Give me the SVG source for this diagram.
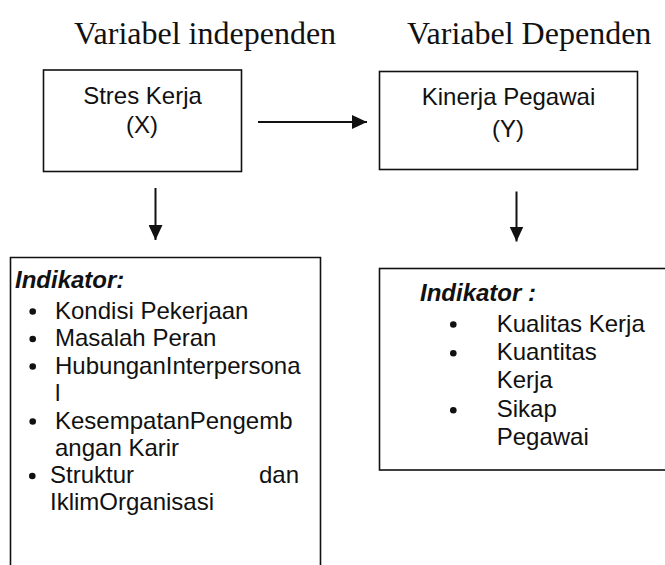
<svg xmlns="http://www.w3.org/2000/svg" width="665" height="565" viewBox="0 0 665 565">
<style>
.box{fill:none;stroke:#111;stroke-width:1.6}
.title{font-family:"Liberation Serif","Times New Roman",serif;font-size:32px;fill:#111}
.t{font-family:"Liberation Sans",Arial,sans-serif;font-size:24px;fill:#111}
.c{text-anchor:middle}
.h{font-weight:bold;font-style:italic}
.b{fill:#111}
.arr{stroke:#111;stroke-width:2;fill:none}
</style>
<defs>
<marker id="ah" markerUnits="userSpaceOnUse" markerWidth="16" markerHeight="14" refX="15" refY="7" orient="auto">
<path d="M0,0 L15,7 L0,14 z" fill="#111"/>
</marker>
</defs>
<g id="titles">
<text class="title" x="74" y="44">Variabel independen</text>
<text class="title" x="407" y="44">Variabel Dependen</text>
</g>
<g id="stres-kerja">
<rect class="box" x="43.5" y="70" width="198" height="101.5"/>
<text class="t c" x="142.5" y="104">Stres Kerja</text>
<text class="t c" x="142" y="132.5">(X)</text>
</g>
<g id="kinerja-pegawai">
<rect class="box" x="379.5" y="71.5" width="258" height="98"/>
<text class="t c" x="508.5" y="105">Kinerja Pegawai</text>
<text class="t c" x="508" y="137">(Y)</text>
</g>
<g id="indikator-x">
<path class="box" d="M10.5,575 V257.5 H320.5 V575"/>
<text class="t h" x="15" y="288">Indikator:</text>
<circle class="b" cx="32.7" cy="311.5" r="3.3"/>
<text class="t" x="55" y="318.5">Kondisi Pekerjaan</text>
<circle class="b" cx="32.7" cy="339" r="3.3"/>
<text class="t" x="55" y="346">Masalah Peran</text>
<circle class="b" cx="32.7" cy="366.5" r="3.3"/>
<text class="t" x="55" y="373.5">HubunganInterpersona</text>
<text class="t" x="55" y="401">l</text>
<circle class="b" cx="32.7" cy="421.5" r="3.3"/>
<text class="t" x="55" y="428.5">KesempatanPengemb</text>
<text class="t" x="55" y="456">angan Karir</text>
<circle class="b" cx="32.3" cy="476" r="3.3"/>
<text class="t" x="50" y="483">Struktur</text>
<text class="t" x="299" y="483" text-anchor="end">dan</text>
<text class="t" x="50" y="510">IklimOrganisasi</text>
</g>
<g id="indikator-y">
<rect class="box" x="379.5" y="268.5" width="300" height="201.5"/>
<text class="t h" x="420" y="301">Indikator :</text>
<circle class="b" cx="453.3" cy="324.5" r="3.3"/>
<text class="t" x="496.7" y="331.5">Kualitas Kerja</text>
<circle class="b" cx="453.3" cy="353.3" r="3.3"/>
<text class="t" x="496.7" y="360">Kuantitas</text>
<text class="t" x="496.7" y="388.3">Kerja</text>
<circle class="b" cx="453.3" cy="410.2" r="3.3"/>
<text class="t" x="496.7" y="416.7">Sikap</text>
<text class="t" x="496.7" y="445">Pegawai</text>
</g>
<g id="connectors">
<line class="arr" x1="258" y1="122" x2="367" y2="122" marker-end="url(#ah)"/>
<line class="arr" x1="155.5" y1="188" x2="155.5" y2="240" marker-end="url(#ah)"/>
<line class="arr" x1="516.5" y1="191.5" x2="516.5" y2="241.5" marker-end="url(#ah)"/>
</g>
</svg>
